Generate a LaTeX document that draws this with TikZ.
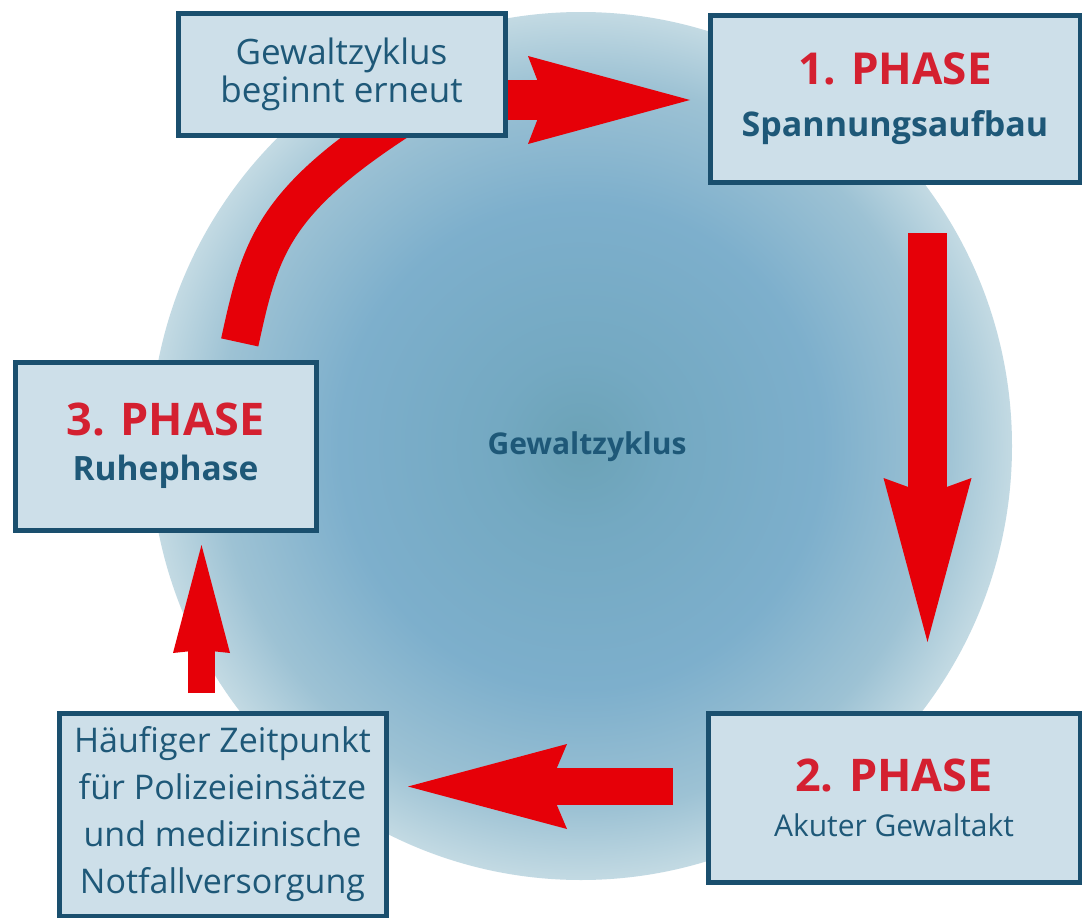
\documentclass[tikz,border=0pt]{standalone}
\usepackage{fontspec}
\setmainfont{Open Sans}
\usetikzlibrary{arrows.meta}
\definecolor{boxfill}{HTML}{CDDFE9}
\definecolor{boxline}{HTML}{1A4F6E}
\definecolor{txtblue}{HTML}{1E5878}
\definecolor{phred}{HTML}{D42030}
\definecolor{arrred}{HTML}{E60008}
\definecolor{cA}{HTML}{6BA2B6}
\definecolor{cB}{HTML}{74A9C2}
\definecolor{cC}{HTML}{7DAFCC}
\definecolor{cD}{HTML}{9DC2D4}
\definecolor{cE}{HTML}{C3DAE3}
\pgfdeclareradialshading{disc}{\pgfpoint{0bp}{0bp}}{color(0bp)=(cA); color(5bp)=(cB); color(14bp)=(cC); color(21bp)=(cD); color(25bp)=(cE); color(50bp)=(cE)}
\pgfdeclarelayer{bg}
\pgfsetlayers{bg,main}
\tikzset{
  box/.style={draw=boxline, line width=5pt, fill=boxfill, inner sep=0pt, align=center, text=txtblue},
  fatarrow/.style args={#1/#2/#3/#4}{draw=arrred, line width=#1,
    -{Stealth[length=#2, width=#3, inset=#4, line width=0pt, fill=arrred]}},
  band/.style={draw=arrred, line width=38pt}
}
\begin{document}
\begin{tikzpicture}[x=1pt,y=-1pt]
\useasboundingbox (0,0) rectangle (1082,918);
% boxes
\node[box, minimum width=327pt, minimum height=122pt, font=\fontsize{35}{38}\selectfont] (gz) at (341.5,74)
  {Gewaltzyklus\\beginnt erneut};
\node[box, minimum width=370pt, minimum height=167pt, font=\fontsize{30}{52}\selectfont] (p1) at (895,98.5)
  {{\fontsize{44}{44}\selectfont\bfseries\color{phred}1. PHASE}\\{\fontsize{34}{34}\selectfont\bfseries Spannungsaufbau}};
\node[box, minimum width=301pt, minimum height=168pt, font=\fontsize{30}{45}\selectfont] (p3) at (165.5,446)
  {{\fontsize{45}{45}\selectfont\bfseries\color{phred}3. PHASE}\\{\fontsize{33.5}{33.5}\selectfont\bfseries Ruhephase}};
\node[box, minimum width=372pt, minimum height=169pt, font=\fontsize{30}{45}\selectfont] (p2) at (894,797.5)
  {{\fontsize{45}{45}\selectfont\bfseries\color{phred}2. PHASE}\\{\fontsize{30}{30}\selectfont Akuter Gewaltakt}};
\node[box, minimum width=327pt, minimum height=203pt, font=\fontsize{34}{47}\selectfont] (note) at (222.5,814.5)
  {H\"aufiger Zeitpunkt\\f\"ur Polizeieins\"atze\\und medizinische\\Notfallversorgung};
\node[text=txtblue, font=\fontsize{30}{30}\selectfont\bfseries] (center) at (587,447) {Gewaltzyklus};
% background layer: page, disc, curved band
\begin{pgfonlayer}{bg}
  \fill[white] (0,0) rectangle (1082,918);
  \shade[shading=disc] (581,446) ellipse (431 and 434);
  \draw[band, shorten <=17.5pt, shorten >=-40pt] (p3.north -| 236,0)
    .. controls (260,249.5) and (271,202) .. (gz.south -| 372,0);
\end{pgfonlayer}
% arrows
\draw[fatarrow=40pt/162pt/88pt/17pt, shorten >=17.5pt] (gz.east |- 0,100) -- (p1.west |- 0,100);
\draw[fatarrow=39pt/164pt/88pt/16pt, shorten <=48.5pt, shorten >=68.5pt] (p1.south -| 927.5,0) -- (p2.north -| 927.5,0);
\draw[fatarrow=37pt/159pt/85pt/18pt, shorten <=32.5pt, shorten >=19.5pt] (p2.west |- 0,786.5) -- (note.east |- 0,786.5);
\draw[fatarrow=27pt/108pt/57pt/3pt, shorten <=17.5pt, shorten >=12.5pt] (note.north -| 201.5,0) -- (p3.south -| 201.5,0);
\end{tikzpicture}
\end{document}
